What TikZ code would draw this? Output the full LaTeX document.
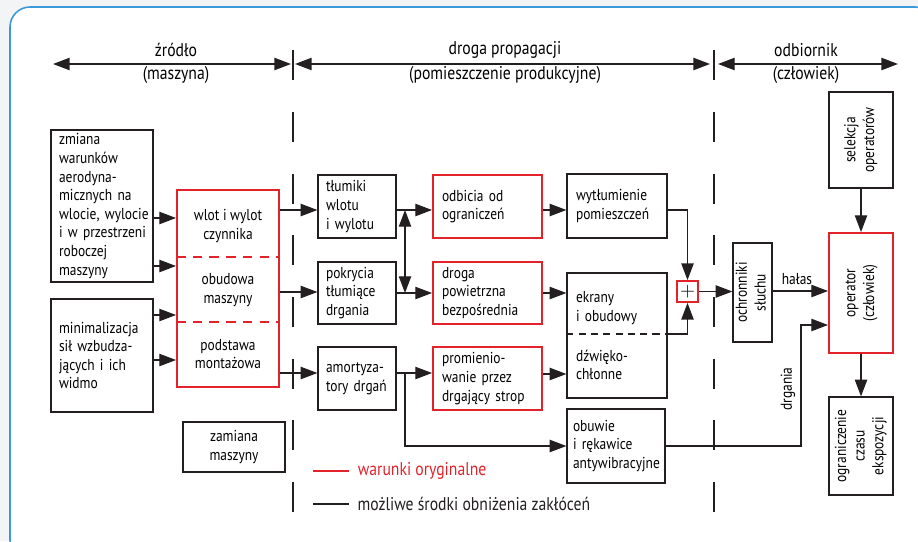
\documentclass[tikz,border=0pt]{standalone}
\usepackage{fontspec}
\setmainfont{PT Sans}[FakeStretch=0.85]
\usetikzlibrary{arrows.meta}
\definecolor{ramka}{HTML}{3A9AD9}
\definecolor{tlo}{HTML}{F2F4F6}
\definecolor{czerw}{HTML}{E2232A}
\definecolor{linia}{HTML}{231F20}
\tikzset{>={Triangle[length=9.5pt,width=7pt]}}
\tikzset{
  blok/.style={draw=linia, line width=0.7pt, inner sep=0pt, font=\fontsize{9}{10.6}\selectfont},
  blokczer/.style={blok, draw=czerw, line width=1.1pt},
  lewy/.style={align=left, text width=#1},
  opis/.style={inner sep=0pt, align=center, font=\fontsize{9}{10.6}\selectfont},
  naglowek/.style={inner sep=0pt, font=\fontsize{10.5}{12}\selectfont},
  strz/.style={->, draw=linia, line width=0.7pt},
  granica/.style={draw=linia, line width=0.8pt, dash pattern=on 0.6cm off 0.634cm},
}
\newcommand{\pion}[1]{\rotatebox{90}{\begin{tabular}{@{}c@{}}#1\end{tabular}}}

\begin{document}
\begin{tikzpicture}[x=0.02cm, y=-0.02cm]
    \useasboundingbox (0,0) rectangle (918,541);
    \begin{scope}
        \clip (0,0) rectangle (918,541);
        \fill[tlo] (0,0) rectangle (918,541);
        \draw[ramka, fill=white, line width=0.9pt, rounded corners=0.4cm] (10,7) rectangle (935,560);
    \end{scope}

    % naglowki
    \node[naglowek] at (176,50) {źródło};
    \node[naglowek] at (176,75) {(maszyna)};
    \node[naglowek] at (505,50) {droga propagacji};
    \node[naglowek] at (505,75) {(pomieszczenie produkcyjne)};
    \node[naglowek] at (806,50) {odbiornik};
    \node[naglowek] at (806,75) {(człowiek)};
    \coordinate (g1) at (293,64);
    \coordinate (g2) at (714,64);
    \draw[<->, linia, line width=0.8pt] (53,64) -- ([xshift=-0.04cm]g1);
    \draw[<->, linia, line width=0.8pt] ([xshift=0.04cm]g1) -- ([xshift=-0.08cm]g2);
    \draw[<->, linia, line width=0.8pt] ([xshift=0.08cm]g2) -- (898,64);
    \draw[linia, line width=0.8pt] (293,50) -- (293,80) (714,50) -- (714,80);
    \draw[granica] (293,112) -- (293,513);
    \draw[granica] (714,112) -- (714,513);

    % zrodlo
    \node[blok, lewy=1.72cm, minimum width=2.04cm, minimum height=3.04cm] (zmiana) at (102,206)
        {zmiana\\warunków\\aerodyna-\\micznych~na\\wlocie,~wylocie\\i~w~przestrzeni\\roboczej\\maszyny};
    \node[blok, lewy=1.72cm, minimum width=2.04cm, minimum height=2.26cm] (minim) at (102,355.5)
        {minimalizacja\\sił~wzbudza-\\jących~i~ich\\widmo};
    \node[blokczer, minimum width=2.04cm, minimum height=3.94cm] (zrodlo) at (228,288.5) {};
    \draw[czerw, line width=1.1pt, dash pattern=on 5.5pt off 4pt] (zrodlo.west |- 0,257) -- (zrodlo.east |- 0,257);
    \draw[czerw, line width=1.1pt, dash pattern=on 5.5pt off 4pt] (zrodlo.west |- 0,322) -- (zrodlo.east |- 0,322);
    \node[opis] at (228,226) {wlot i wylot\\czynnika};
    \node[opis] at (228,290) {obudowa\\maszyny};
    \node[opis] at (228,354) {podstawa\\montażowa};
    \node[blok, align=center, minimum width=2.04cm, minimum height=1cm] (zamiana) at (234,447) {zamiana\\maszyny};

    % droga propagacji
    \node[blok, lewy=1.24cm, minimum width=1.56cm, minimum height=1.26cm] (tlum) at (357,206.5) {tłumiki\\wlotu\\i~wylotu};
    \node[blok, lewy=1.24cm, minimum width=1.56cm, minimum height=1.24cm] (pokr) at (357,293) {pokrycia\\tłumiące\\drgania};
    \node[blok, lewy=1.24cm, minimum width=1.56cm, minimum height=1.26cm] (amort) at (357,378.5) {amortyza-\\tory~drgań};
    \node[blokczer, lewy=1.82cm, minimum width=2.18cm, minimum height=1.26cm] (odb) at (487.5,206.5) {odbicia~od\\ograniczeń};
    \node[blokczer, lewy=1.82cm, minimum width=2.18cm, minimum height=1.24cm] (droga) at (487.5,293) {droga\\powietrzna\\bezpośrednia};
    \node[blokczer, lewy=1.82cm, minimum width=2.18cm, minimum height=1.26cm] (prom) at (487.5,378.5) {promienio-\\wanie~przez\\drgający~strop};
    \node[blok, lewy=1.64cm, minimum width=2cm, minimum height=1.28cm] (wytl) at (617,206) {wytłumienie\\pomieszczeń};
    \node[blok, minimum width=2cm, minimum height=2.5cm] (ekr) at (617,335.5) {};
    \node[opis, lewy=1.64cm] at (617,308) {ekrany\\i~obudowy};
    \node[opis, lewy=1.64cm] at (617,365) {dźwięko-\\chłonne};
    \node[blok, lewy=1.72cm, minimum width=1.96cm, minimum height=1.48cm] (obuwie) at (616,446) {obuwie\\i~rękawice\\antywibracyjne};
    \node[blokczer, line width=1pt, minimum size=0.42cm, font=\fontsize{11}{11}\selectfont] (plus) at (687.5,291.5) {$+$};

    % odbiornik
    \node[blok, minimum width=0.78cm, minimum height=1.98cm] (ochr) at (752.5,292.5) {\pion{ochronniki\\słuchu}};
    \node[blokczer, minimum width=1.28cm, minimum height=2.4cm] (oper) at (861,293) {\pion{operator\\(człowiek)}};
    \node[blok, minimum width=1.28cm, minimum height=1.92cm] (sel) at (861,140) {\pion{selekcja\\operatorów}};
    \node[blok, minimum width=1.28cm, minimum height=1.96cm] (ogr) at (861,446) {\pion{ograniczenie\\czasu\\ekspozycji}};

    % polaczenia
    \draw[strz] (zmiana.east |- 0,218) -- (zrodlo.west |- 0,218);
    \draw[strz] (zmiana.east |- 0,266) -- (zrodlo.west |- 0,266);
    \draw[strz] (minim.east |- 0,315) -- (zrodlo.west |- 0,315);
    \draw[strz] (minim.east |- 0,360) -- (zrodlo.west |- 0,360);
    \draw[strz] (zrodlo.east |- 0,210) -- (tlum.west |- 0,210);
    \draw[strz] (zrodlo.east |- 0,292) -- (pokr.west |- 0,292);
    \draw[strz] (zrodlo.east |- 0,373) -- (amort.west |- 0,373);
    \coordinate (w1) at (405,210);
    \coordinate (w2) at (405,293);
    \coordinate (rozg) at (405,373);
    \draw[strz] (tlum.east |- w1) -- (odb.west |- w1);
    \draw[strz] (pokr.east |- w2) -- (droga.west |- w2);
    \draw[<->, linia, line width=0.7pt] (w1) -- (w2);
    \draw[strz] (amort.east |- rozg) -- (prom.west |- rozg);
    \draw[strz] (rozg) -- (405,446) -- (obuwie.west);
    \draw[strz] (odb.east |- 0,210) -- (wytl.west |- 0,210);
    \draw[strz] (droga.east |- 0,293) -- (ekr.west |- 0,293);
    \draw[strz] (prom.east |- 0,374) -- (ekr.west |- 0,374);
    \draw[strz] (wytl.east |- 0,210) -| (plus.north);
    \draw[linia, line width=0.7pt, dash pattern=on 4pt off 3pt] (ekr.west |- 0,334) -- (ekr.east |- 0,334);
    \draw[strz] (ekr.east |- 0,334) -| (plus.south);
    \draw[strz] (plus.east) -- (ochr.west |- plus.east);
    \draw[strz] (ochr.east |- 0,291) -- node[opis, above=3pt, pos=0.44] {hałas} (oper.west |- 0,291);
    \coordinate (zal) at (801,325);
    \draw[strz] (obuwie.east) -| (zal) -- (oper.west |- zal);
    \node[opis, rotate=90] at (788,389) {drgania};
    \draw[strz] (sel) -- (oper);
    \draw[strz] (oper) -- (ogr);

    % legenda
    \draw[czerw, line width=1pt] (313,471) -- (349,471) node[naglowek, right=0.16cm] {warunki oryginalne};
    \draw[linia, line width=0.8pt] (313,504) -- (349,504) node[naglowek, right=0.16cm] {możliwe środki obniżenia zakłóceń};
\end{tikzpicture}
\end{document}
